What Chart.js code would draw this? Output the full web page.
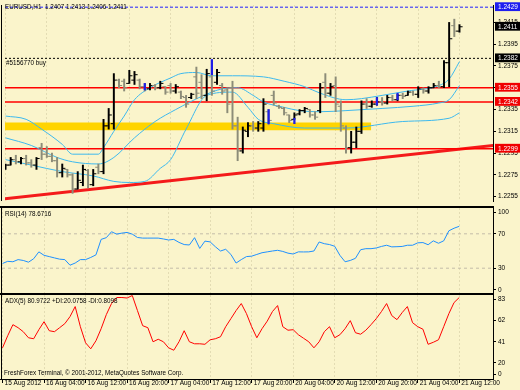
<!DOCTYPE html>
<html>
<head>
<meta charset="utf-8">
<script src="https://cdn.jsdelivr.net/npm/chart.js"></script>
<style>
  html, body { margin:0; padding:0; background:#FAF4CB; }
  #wrap { position:relative; width:520px; height:390px; overflow:hidden; background:#FAF4CB; }
  #wrap canvas { position:absolute; left:0; }
  .t { position:absolute; font-family:'Liberation Sans',Arial,sans-serif; font-size:6.3px; line-height:8px; color:#000; white-space:pre; z-index:5; }
</style>
</head>
<body>
<div id="wrap">
  <canvas id="cMain" width="520" height="206" style="top:0"></canvas>
  <canvas id="cRsi" width="520" height="88" style="top:206px"></canvas>
  <canvas id="cAdx" width="520" height="97" style="top:293px"></canvas>
  <div class="t" style="left:5px;top:3px">EURUSD,H1  1.2407 1.2413 1.2406 1.2411</div>
  <div class="t" style="left:6px;top:59px">#5156770 buy</div>
  <div class="t" style="left:5px;top:210px">RSI(14) 78.6716</div>
  <div class="t" style="left:5px;top:297px">ADX(5) 80.9722 +DI:20.0758 -DI:0.8098</div>
  <div class="t" style="left:4px;top:369px">FreshForex Terminal, © 2001-2012, MetaQuotes Software Corp.</div>
</div>
<script>
// ================= DATA =================
const timeLabels = ['15 Aug 2012','16 Aug 04:00','16 Aug 12:00','16 Aug 20:00','17 Aug 04:00','17 Aug 12:00',
                    '17 Aug 20:00','20 Aug 04:00','20 Aug 12:00','20 Aug 20:00','21 Aug 04:00','21 Aug 12:00'];
const timeTickBars = [0,8,16,24,32,40,48,56,64,72,80,88];

const barOpen = [1.2281,1.2284,1.2289,1.2287,1.2290,1.2286,1.2284,1.2300,1.2294,1.2292,
  1.2288,1.2277,1.2280,1.2275,1.2262,1.2268,1.2279,1.2266,1.2282,1.2278,
  1.2320,1.2322,1.2362,1.2361,1.2359,1.2362,1.2362,1.2356,1.2354,1.2357,
  1.2355,1.2356,1.2357,1.2352,1.2351,1.2346,1.2346,1.2365,1.2360,1.2348,
  1.2365,1.2360,1.2357,1.2353,1.2355,1.2320,1.2297,1.2315,1.2320,1.2318,
  1.2318,1.2333,1.2348,1.2338,1.2336,1.2330,1.2326,1.2331,1.2334,1.2335,
  1.2330,1.2334,1.2360,1.2350,1.2357,1.2338,1.2318,1.2300,1.2305,1.2315,
  1.2340,1.2338,1.2340,1.2342,1.2341,1.2346,1.2344,1.2348,1.2348,1.2351,
  1.2349,1.2354,1.2352,1.2355,1.2357,1.2356,1.2378,1.2412,1.2407];
const barHigh = [1.2285,1.2291,1.2293,1.2291,1.2293,1.2289,1.2291,1.2304,1.2301,1.2295,
  1.2291,1.2285,1.2280,1.2276,1.2278,1.2284,1.2280,1.2280,1.2285,1.2326,
  1.2336,1.2368,1.2363,1.2363,1.2371,1.2370,1.2363,1.2359,1.2359,1.2358,
  1.2361,1.2356,1.2359,1.2358,1.2352,1.2348,1.2350,1.2374,1.2367,1.2372,
  1.2368,1.2372,1.2359,1.2355,1.2361,1.2328,1.2319,1.2323,1.2324,1.2324,
  1.2345,1.2335,1.2352,1.2339,1.2337,1.2330,1.2332,1.2335,1.2337,1.2335,
  1.2333,1.2359,1.2368,1.2359,1.2365,1.2343,1.2320,1.2315,1.2319,1.2343,
  1.2345,1.2343,1.2346,1.2346,1.2348,1.2348,1.2349,1.2350,1.2352,1.2352,
  1.2356,1.2355,1.2356,1.2359,1.2361,1.2380,1.2415,1.2418,1.2413];
const barLow = [1.2280,1.2284,1.2285,1.2285,1.2284,1.2282,1.2280,1.2289,1.2291,1.2287,
  1.2273,1.2273,1.2273,1.2258,1.2262,1.2265,1.2263,1.2265,1.2276,1.2276,
  1.2317,1.2317,1.2355,1.2352,1.2359,1.2358,1.2354,1.2352,1.2353,1.2353,
  1.2354,1.2349,1.2350,1.2350,1.2345,1.2337,1.2345,1.2345,1.2345,1.2343,
  1.2348,1.2358,1.2349,1.2332,1.2317,1.2288,1.2295,1.2310,1.2315,1.2315,
  1.2315,1.2321,1.2339,1.2336,1.2330,1.2323,1.2326,1.2330,1.2332,1.2328,
  1.2326,1.2332,1.2346,1.2348,1.2333,1.2315,1.2295,1.2295,1.2300,1.2313,
  1.2336,1.2337,1.2339,1.2339,1.2340,1.2343,1.2343,1.2345,1.2348,1.2348,
  1.2346,1.2350,1.2350,1.2355,1.2355,1.2355,1.2356,1.2402,1.2406];
const barClose = [1.2284,1.2289,1.2287,1.2290,1.2286,1.2284,1.2290,1.2294,1.2292,1.2288,
  1.2277,1.2281,1.2275,1.2262,1.2270,1.2280,1.2266,1.2276,1.2278,1.2320,
  1.2330,1.2362,1.2357,1.2355,1.2366,1.2367,1.2356,1.2354,1.2357,1.2355,
  1.2359,1.2351,1.2352,1.2356,1.2347,1.2340,1.2349,1.2350,1.2348,1.2368,
  1.2352,1.2369,1.2352,1.2340,1.2320,1.2297,1.2316,1.2320,1.2318,1.2322,
  1.2340,1.2325,1.2341,1.2337,1.2332,1.2325,1.2330,1.2334,1.2336,1.2330,
  1.2328,1.2355,1.2350,1.2356,1.2340,1.2320,1.2300,1.2305,1.2315,1.2340,
  1.2338,1.2340,1.2342,1.2341,1.2346,1.2344,1.2348,1.2347,1.2351,1.2349,
  1.2354,1.2352,1.2355,1.2357,1.2356,1.2378,1.2400,1.2407,1.2411];

const bbUpperBars  = [0,4,7,11,13,18,19,21,23,25,28,32,34,37,40,44,50,54,58,61,66,69,73,78,84,86,88];
const bbUpper      = [1.2329,1.2326,1.2317,1.2303,1.2294,1.2294,1.2300,1.2315,1.2329,1.2344,1.2355,1.2364,1.2368,1.2369,
                      1.2366,1.2366,1.2365,1.2361,1.2356,1.2350,1.2344,1.2345,1.2348,1.2352,1.2357,1.2363,1.2379];
const bbMiddleBars = [0,5,10,13,18,21,25,29,33,38,42,45,48,50,54,57,61,66,73,79,84,86,88];
const bbMiddle     = [1.2309,1.2302,1.2291,1.2287,1.2285,1.2291,1.2309,1.2324,1.2335,1.2347,1.2354,1.2355,1.2348,1.2342,
                      1.2337,1.2334,1.2333,1.2334,1.2336,1.2338,1.2341,1.2344,1.2357];
const bbLowerBars  = [0,5,11,17,21,24,27,30,32,35,39,44,47,49,52,58,66,77,86,88];
const bbLower      = [1.2289,1.2284,1.2278,1.2274,1.2269,1.2268,1.2269,1.2281,1.2289,1.2317,1.2348,1.2351,1.2337,1.2326,
                      1.2322,1.2318,1.2318,1.2324,1.2327,1.2332];

const rsiValues = [35.5,38,37.5,40,39,37,41,49,45,43.5, 42,40.5,40,33.5,36,40,40,42.5,45.5,63.5,
  65.5,72.4,69.6,70.8,71.6,69.6,65.7,65,65,65, 65,64,62.8,63.5,60,57.5,57,65.5,53,61.5,
  60.6,55,50,52,46,36,40,43.5,44,46, 48,49,50,50.8,49.5,47.5,46.5,49,48.9,49,
  50,60.5,58.5,57.5,55.5,45,37.5,39,41.5,51.5, 52.7,52.7,53.5,55.3,56.7,54.8,55,55.3,56.7,56.7,
  59.5,59.8,57.3,61.8,59,61.8,73.5,76.5,78.7];
const adxValues = [31,43,54,51,47,41,40,49,57,48, 47,51,55,62,72,52,36,30,38,50,
  64,75,81,81,80.5,83,68,53,51,37, 39.5,37,31,28.6,37,48,37,35,35,34.5,
  39,40,42,52,60,68,75,65,52,41, 50,57.5,67,73,52,48.5,49,44,40.5,37,
  31,37,47,52,41,44,50,58,46,44.5, 48.5,54,60,67,75,63,59,66,72,56,
  52,49.5,34.5,36.5,39,52,65,76,81];

const priceTicks = [1.2415,1.2395,1.2375,1.2355,1.2335,1.2315,1.2295,1.2275,1.2255];
const orderLevelPrices = [1.2429,1.2411,1.2382,1.2355,1.2342,1.2299];
const orderLevelKinds  = ['blue','black','black','red','red','red'];
const redLevels = [1.2355,1.2342,1.2299];
const buyOrderPrice = 1.2382;
const blueLevelPrice = 1.2429;
const zoneTop = 1.2323, zoneBottom = 1.2316, zoneEndBar = 70.9;
const trendBars = [-0.4, 94.6], trendPrices = [1.2253, 1.2302];
const arrowBars = [27,40,51,56,72,76];
const arrowLow  = [1.2353,1.2367,1.2322,1.2322,1.2339,1.2344];
const arrowHigh = [1.2359,1.2381,1.2335,1.2327,1.2346,1.2350];

const rsiTicks = [100,70,30,0];
const rsiLevels = [70,30];
const adxTicks = [83,62,41,20,0];

// ================= RENDERING =================
const FONT = "'Liberation Sans',Arial,sans-serif";
Chart.defaults.font.family = FONT;
Chart.defaults.font.size = 6.5;
Chart.defaults.color = '#000';
Chart.defaults.animation = false;
Chart.defaults.plugins.legend.display = false;
Chart.defaults.plugins.tooltip.enabled = false;
Chart.defaults.events = [];

const X_MIN = -0.1, X_MAX = 94.5;
const UP = '#000000', DOWN = '#8C8C78', BB = '#3DB9EE', GRID = 'rgba(175,165,125,0.3)';
const KIND_COLOR = { blue:'#1E1EF0', black:'#000000', red:'#F00000' };

const bars = barOpen.map((_, i) => i);
const barColor = bars.map(i => barClose[i] >= barOpen[i] ? UP : DOWN);
const hline = (v, x0 = X_MIN, x1 = X_MAX) => [{x:x0, y:v}, {x:x1, y:v}];
const pts = (xs, ys) => xs.map((x, i) => ({x, y: ys[i]}));
const noPad = s => { s.paddingTop = 0; s.paddingBottom = 0; s.paddingLeft = 0; s.paddingRight = 0; };

const framePlugin = {
  id: 'frame',
  afterDraw(chart, args, o) {
    const {ctx, chartArea: a} = chart;
    ctx.save();
    ctx.fillStyle = '#000';
    ctx.fillRect(1, a.top, 1, a.bottom - a.top);
    if (o.topBar) ctx.fillRect(0, 0, a.right + 1, o.topBar);
    if (o.bottomLine) ctx.fillRect(0, a.bottom, a.right + 1, 1);
    ctx.restore();
  }
};

function xAxis(withLabels) {
  return {
    type: 'linear', min: X_MIN, max: X_MAX, offset: false,
    afterBuildTicks: s => { s.ticks = timeTickBars.map(v => ({value: v})); },
    afterFit: s => { s.height = withLabels ? 11 : 0; noPad(s); },
    grid: { color: GRID, lineWidth: 1, drawTicks: withLabels, tickLength: 4, tickColor: '#000', tickWidth: 1, offset: false },
    border: { display: false, dash: [2, 2] },
    ticks: { display: withLabels, autoSkip: false, maxRotation: 0, minRotation: 0, align: 'start',
             labelOffset: 2, padding: -4, font: { size: 6.5 }, callback: (v, i) => timeLabels[i] }
  };
}

function sideAxis(min, max, tickValues, labelFn) {
  return {
    type: 'linear', position: 'right', min, max,
    afterBuildTicks: s => { s.ticks = tickValues.map(v => ({value: v})); },
    afterFit: s => { s.width = 27; noPad(s); },
    grid: { drawOnChartArea: false, drawTicks: true, tickLength: 3, tickColor: '#000' },
    border: { display: true, color: '#000', width: 1 },
    ticks: { autoSkip: false, padding: 2, callback: labelFn }
  };
}

// ---------- main price chart ----------
const allPriceTicks = priceTicks.concat(orderLevelPrices);
const isOrder = i => i >= priceTicks.length;
const mainY = sideAxis(1.2251, 1.2431, allPriceTicks, v => Number(v).toFixed(4));
mainY.grid.tickColor = c => isOrder(c.index) ? 'rgba(0,0,0,0)' : '#000';
Object.assign(mainY.ticks, {
  color: c => isOrder(c.index) ? '#FFFFFF' : '#000000',
  showLabelBackdrop: c => isOrder(c.index),
  backdropColor: c => isOrder(c.index) ? KIND_COLOR[orderLevelKinds[c.index - priceTicks.length]] : 'rgba(0,0,0,0)',
  backdropPadding: {top: 1, bottom: 0, left: 3, right: 6}
});

const lineDs = (data, color, width, extra) => Object.assign({
  type: 'line', data, borderColor: color, borderWidth: width, pointRadius: 0, fill: false, tension: 0
}, extra || {});

new Chart(document.getElementById('cMain'), {
  type: 'bar',
  data: { datasets: [
    lineDs(hline(zoneTop, X_MIN, zoneEndBar), 'rgba(0,0,0,0)', 0,
           { fill: {value: zoneBottom}, backgroundColor: '#FFD400', order: 20 }),
    lineDs(pts(trendBars, trendPrices), '#F41A1A', 3, { order: 19 }),
    ...redLevels.map(v => lineDs(hline(v), '#FF0000', 1.5, { order: 18 })),
    lineDs(hline(buyOrderPrice), '#000000', 1, { borderDash: [2, 2], order: 17 }),
    lineDs(hline(blueLevelPrice), '#2020FF', 1, { borderDash: [3, 2], order: 17 }),
    lineDs(pts(bbUpperBars, bbUpper), BB, 1, { cubicInterpolationMode: 'monotone', order: 15 }),
    lineDs(pts(bbMiddleBars, bbMiddle), BB, 1, { cubicInterpolationMode: 'monotone', order: 15 }),
    lineDs(pts(bbLowerBars, bbLower), BB, 1, { cubicInterpolationMode: 'monotone', order: 15 }),
    { type: 'bar', data: bars.map(i => ({x: i, y: [barLow[i], barHigh[i]]})),
      backgroundColor: barColor, barThickness: 1.3, grouped: false, order: 5 },
    { type: 'scatter', data: bars.map(i => ({x: i - 0.3, y: barOpen[i]})),
      pointStyle: 'line', pointRadius: 1.6, pointBorderWidth: 1, pointBorderColor: barColor, order: 4 },
    { type: 'scatter', data: bars.map(i => ({x: i + 0.3, y: barClose[i]})),
      pointStyle: 'line', pointRadius: 1.6, pointBorderWidth: 1, pointBorderColor: barColor, order: 4 },
    { type: 'bar', data: arrowBars.map((b, k) => ({x: b, y: [arrowLow[k], arrowHigh[k]]})),
      backgroundColor: '#1E1EE6', barThickness: 1.6, grouped: false, order: 3 }
  ]},
  options: {
    responsive: false, devicePixelRatio: 1,
    layout: { padding: { left: 2, top: 0, right: 0, bottom: 0 } },
    scales: { x: xAxis(false), y: mainY },
    plugins: { frame: { topBar: 0 } }
  },
  plugins: [framePlugin]
});

// ---------- RSI ----------
const rsiPos = rsiTicks.map(v => Math.min(100 - 4.7, Math.max(4.7, v)));
new Chart(document.getElementById('cRsi'), {
  type: 'line',
  data: { datasets: [
    ...rsiLevels.map(v => lineDs(hline(v), '#C4BCA8', 1, { borderDash: [3, 3], order: 5 })),
    lineDs(pts(bars, rsiValues), '#1E90FF', 1, { order: 1 })
  ]},
  options: {
    responsive: false, devicePixelRatio: 1,
    layout: { padding: { left: 2, top: 2, right: 0, bottom: 0 } },
    scales: { x: xAxis(false), y: sideAxis(0, 100, rsiPos, (v, i) => String(rsiTicks[i])) },
    plugins: { frame: { topBar: 2 } }
  },
  plugins: [framePlugin]
});

// ---------- ADX ----------
const ADX_MAX = 83.5;
const adxPos = adxTicks.map(v => Math.min(ADX_MAX - 4.5, Math.max(4.5, v - 4)));
new Chart(document.getElementById('cAdx'), {
  type: 'line',
  data: { datasets: [
    lineDs(pts(bars, adxValues), '#FF0000', 1, { order: 1 })
  ]},
  options: {
    responsive: false, devicePixelRatio: 1,
    layout: { padding: { left: 2, top: 2, right: 0, bottom: 0 } },
    scales: { x: xAxis(true), y: sideAxis(0, ADX_MAX, adxPos, (v, i) => String(adxTicks[i])) },
    plugins: { frame: { topBar: 2, bottomLine: true } }
  },
  plugins: [framePlugin]
});
</script>
</body>
</html>
